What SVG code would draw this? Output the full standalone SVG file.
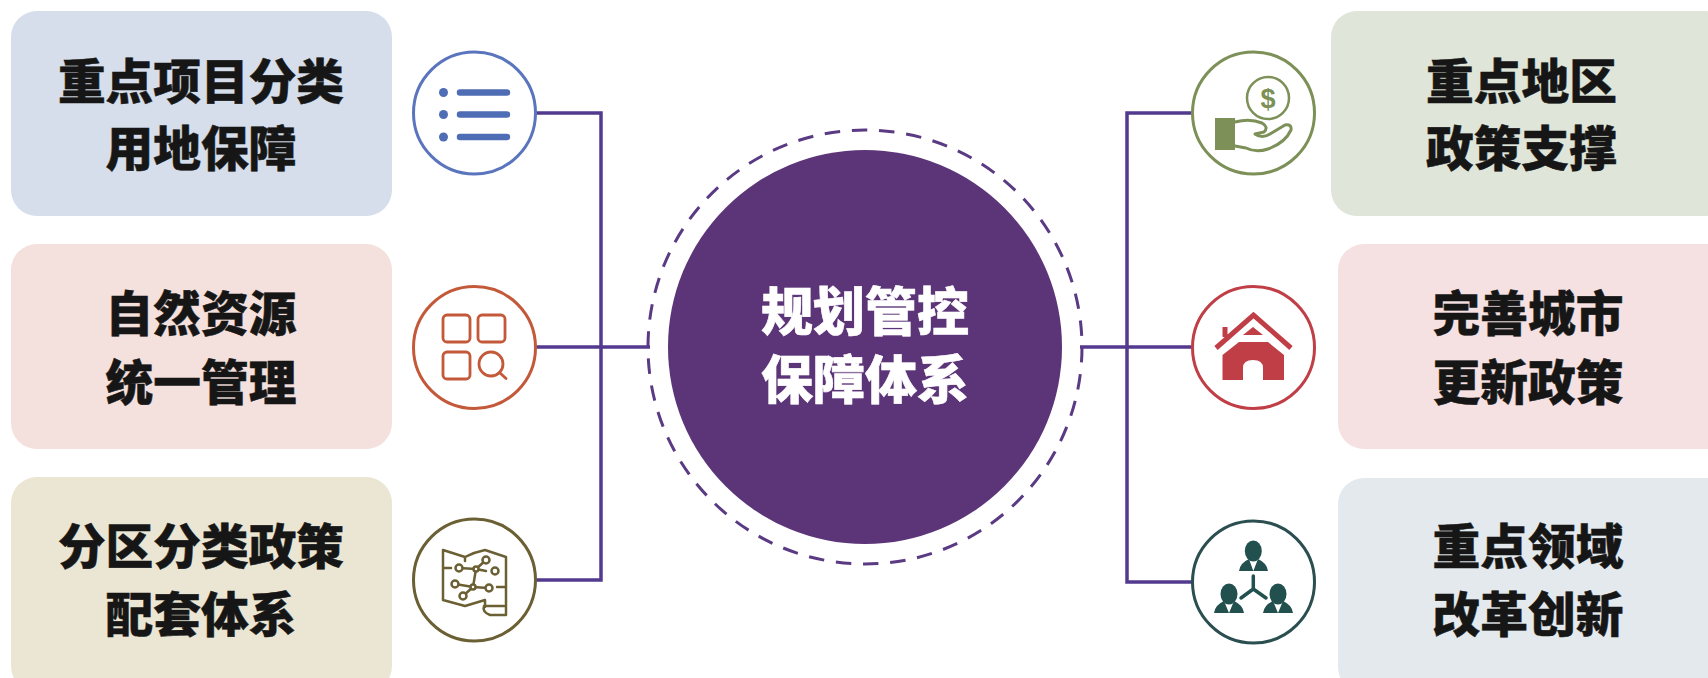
<svg xmlns="http://www.w3.org/2000/svg" width="1708" height="678" viewBox="0 0 1708 678">
<style>
.t{font-family:"Noto Sans CJK SC","Noto Sans",sans-serif;font-weight:900;font-size:47.700px;text-anchor:middle;fill:#161616;stroke:#161616;stroke-width:.5px}
.c{font-family:"Noto Sans CJK SC","Noto Sans",sans-serif;font-weight:900;font-size:52px;text-anchor:middle;fill:#fff;stroke:#fff;stroke-width:.6px}
.ring{fill:#fff;stroke-width:3}
.conn{fill:none;stroke:#533a8e;stroke-width:3.500}
.ol{fill:none;stroke-linecap:round;stroke-linejoin:round}
</style>
<rect width="1708" height="678" fill="#fff"/>
<g id="connectors">
<path class="conn" d="M536 113H601V580H536M536 347H650"/>
<path class="conn" d="M1192 113H1127V582H1192M1192 347H1080"/>
</g>
<g id="center">
<circle cx="865" cy="347" r="217" fill="none" stroke="#5b3a84" stroke-width="3" stroke-dasharray="15.500 11.770"/>
<circle cx="865" cy="347" r="197" fill="#5c3478"/>
<text class="c" x="865" y="331">规划管控</text>
<text class="c" x="865" y="399">保障体系</text>
</g>
<g id="box-l1">
<rect x="11" y="11" width="381" height="205" rx="26" fill="#d5deea"/>
<text class="t" x="201" y="99">重点项目分类</text><text class="t" x="201" y="166">用地保障</text>
</g>
<g id="box-l2">
<rect x="11" y="244" width="381" height="205" rx="26" fill="#f4e0dc"/>
<text class="t" x="201" y="331">自然资源</text><text class="t" x="201" y="400">统一管理</text>
</g>
<g id="box-l3">
<rect x="11" y="477" width="381" height="215" rx="26" fill="#ebe6d3"/>
<text class="t" x="201" y="564">分区分类政策</text><text class="t" x="201" y="632">配套体系</text>
</g>
<g id="box-r1">
<rect x="1331" y="11" width="400" height="205" rx="26" fill="#dfe5d8"/>
<text class="t" x="1521.500" y="99">重点地区</text><text class="t" x="1521.500" y="166">政策支撑</text>
</g>
<g id="box-r2">
<rect x="1338" y="244" width="400" height="205" rx="26" fill="#f6e1e2"/>
<text class="t" x="1528" y="331">完善城市</text><text class="t" x="1528" y="400">更新政策</text>
</g>
<g id="box-r3">
<rect x="1338" y="478" width="400" height="215" rx="26" fill="#e3e9ec"/>
<text class="t" x="1528" y="564">重点领域</text><text class="t" x="1528" y="632">改革创新</text>
</g>
<g id="icon-list">
<circle class="ring" cx="474.500" cy="113" r="61" stroke="#5a75bd"/>
<g fill="#4f6db5"><circle cx="443.500" cy="92.500" r="4.500"/><circle cx="443.500" cy="114.500" r="4.500"/><circle cx="443.500" cy="137" r="4.500"/></g>
<path class="ol" stroke="#4f6db5" stroke-width="6.500" d="M460 92.500H507M460 114.500H507M460 137H507"/>
</g>
<g id="icon-grid">
<circle class="ring" cx="474.500" cy="347.500" r="61" stroke="#c4593a"/>
<g class="ol" stroke="#c4593a" stroke-width="2.800">
<rect x="443" y="315" width="27" height="27" rx="4"/><rect x="478" y="315" width="27" height="27" rx="4"/><rect x="443" y="352" width="27" height="27" rx="4"/>
<circle cx="491" cy="364" r="12"/><path d="M499.500 372.500L506 378.500"/>
</g>
</g>
<g id="icon-map">
<circle class="ring" cx="474.500" cy="580" r="61" stroke="#6b5f34"/>
<g class="ol" stroke="#6b5f34" stroke-width="2.500">
<path d="M443 600V550L465 557Q475 552 485 550L506 557V615H490Q482 612 484 606H504M443 600L465 606L485 600V607M465 557V561M443 568H451M497 587H506"/>
<path d="M459 568L476 569L486 560M476 569L486 571M476 569L473 587L455 584M473 587L488 588M473 587L463 596"/>
<g fill="#fff"><circle cx="459" cy="568" r="3.500"/><circle cx="486" cy="560" r="3.500"/><circle cx="495" cy="571" r="3.500"/><circle cx="455" cy="584" r="3.500"/><circle cx="489" cy="588" r="3.500"/><circle cx="463" cy="596" r="3.500"/><circle cx="476" cy="569" r="2.500"/><circle cx="473" cy="587" r="2.500"/></g>
</g>
</g>
<g id="icon-hand">
<circle class="ring" cx="1253.500" cy="113" r="61" stroke="#7c9058"/>
<circle cx="1268" cy="98" r="21" fill="none" stroke="#7c9058" stroke-width="2.500"/>
<text x="1268" y="108" font-family="Liberation Sans,sans-serif" font-weight="700" font-size="27" text-anchor="middle" fill="#7c9058">$</text>
<rect x="1215" y="118" width="20" height="32" fill="#7c9058"/>
<path class="ol" stroke="#7c9058" stroke-width="3" d="M1235 122Q1250 118 1262 123Q1269 127 1264 132L1255 134Q1262 139 1270 134L1285 125Q1292 124 1291 130Q1285 143 1268 149Q1256 153 1246 148L1235 146"/>
</g>
<g id="icon-house">
<circle class="ring" cx="1253.500" cy="347.500" r="61" stroke="#c03e46"/>
<path fill="none" stroke="#c03e46" stroke-width="5" d="M1216 348L1253.500 315L1291 348M1225 327V337"/>
<path fill="#c03e46" d="M1243 335L1253 327L1263 335ZM1222.500 380V355L1239 342H1268L1284 355V380H1263V368Q1263 360 1253 360Q1243 360 1243 368V380Z"/>
</g>
<g id="icon-people" fill="#22504f">
<circle class="ring" cx="1253.500" cy="582" r="61" stroke="#2b4f50"/>
<g><ellipse cx="1253.300" cy="551" rx="8.500" ry="10.500"/><path d="M1239 571Q1240 563 1249 559L1253.300 571L1258 559Q1267 563 1268 571Z"/></g>
<g><ellipse cx="1229" cy="594" rx="8.500" ry="10.500"/><path d="M1214 613Q1215 605 1224 601L1229 613L1234 601Q1243 605 1244 613Z"/></g>
<g><ellipse cx="1278" cy="594" rx="8.500" ry="10.500"/><path d="M1263 613Q1264 605 1273 601L1278 613L1283 601Q1292 605 1293 613Z"/></g>
<path class="ol" stroke="#22504f" stroke-width="3.500" d="M1253.300 576V589L1241 598M1253.300 589L1266 598"/>
</g>
</svg>
